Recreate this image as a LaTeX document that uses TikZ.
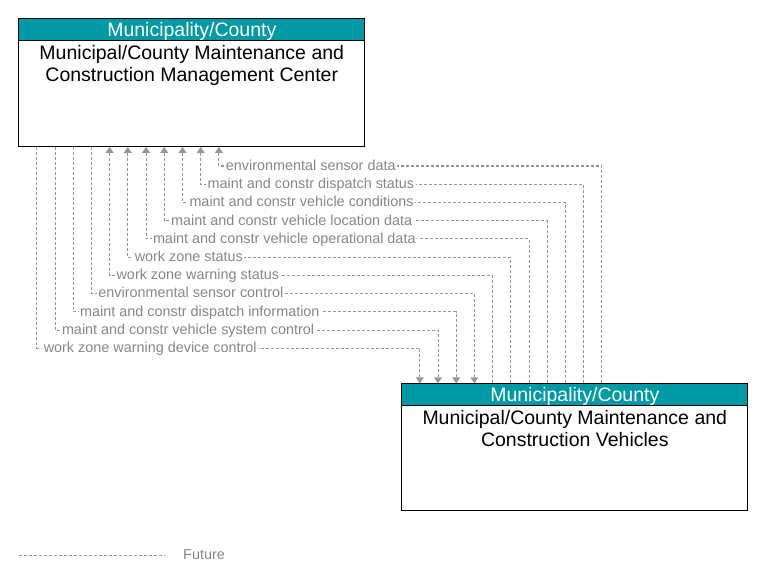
\documentclass[tikz,border=0pt]{standalone}
\usepackage{fontspec}
\setmainfont{Liberation Sans}
\usetikzlibrary{arrows.meta}
\definecolor{hdrteal}{RGB}{0,154,166}
\definecolor{flowgray}{RGB}{150,150,150}
\definecolor{lblgray}{RGB}{135,135,135}

\begin{document}
\begin{tikzpicture}[x=1pt,y=-1pt,>={Triangle[width=8pt,length=6pt]},
  box/.style={draw=black, line width=1pt, minimum width=346pt, anchor=north west, inner sep=0pt},
  hdr/.style={draw=black, line width=1pt, fill=hdrteal, text=white, minimum width=346pt, minimum height=22pt,
    anchor=north west, inner sep=0pt, text height=14pt, text depth=1pt, font=\fontsize{19.5}{21.5}\selectfont},
  ttl/.style={anchor=north, align=center, inner xsep=0pt, inner ysep=4pt, font=\fontsize{19.5}{21.5}\selectfont},
  flow/.style={flowgray, line width=1pt, dash pattern=on 3pt off 2pt},
  lbl/.style={anchor=west, xshift=5pt, fill=white, inner sep=1.5pt, text=lblgray, text height=10.3pt,
    text depth=1.5pt, font=\fontsize{14.4}{16}\selectfont}]
\useasboundingbox (0,0) rectangle (763,583);

% management center
\node[box, minimum height=127.7pt] (mc) at (18.3,18.3) {};
\node[hdr] (mch) at (18.3,18.3) {Municipality/County};
\node[ttl] (mct) at (mch.south) {Municipal/County Maintenance and\\Construction Management Center};

% vehicles
\node[box, minimum height=127pt] (vc) at (401.3,383.3) {};
\node[hdr] (vch) at (401.3,383.3) {Municipality/County};
\node[ttl] (vct) at (vch.south) {Municipal/County Maintenance and\\Construction Vehicles};

% flows to the center
\draw[flow,<-] ([xshift=200.6pt]mc.south west) -- ++(0,19) node[lbl]{environmental sensor data} -| ([xshift=200.6pt]vc.north west);
\draw[flow,<-] ([xshift=182.4pt]mc.south west) -- ++(0,37.2) node[lbl]{maint and constr dispatch status} -| ([xshift=182.4pt]vc.north west);
\draw[flow,<-] ([xshift=164.2pt]mc.south west) -- ++(0,55.5) node[lbl]{maint and constr vehicle conditions} -| ([xshift=164.2pt]vc.north west);
\draw[flow,<-] ([xshift=145.9pt]mc.south west) -- ++(0,73.7) node[lbl]{maint and constr vehicle location data} -| ([xshift=145.9pt]vc.north west);
\draw[flow,<-] ([xshift=127.7pt]mc.south west) -- ++(0,91.9) node[lbl]{maint and constr vehicle operational data} -| ([xshift=127.7pt]vc.north west);
\draw[flow,<-] ([xshift=109.5pt]mc.south west) -- ++(0,110.1) node[lbl]{work zone status} -| ([xshift=109.5pt]vc.north west);
\draw[flow,<-] ([xshift=91.3pt]mc.south west) -- ++(0,128.3) node[lbl]{work zone warning status} -| ([xshift=91.3pt]vc.north west);

% flows to the vehicles
\draw[flow,->] ([xshift=73.1pt]mc.south west) -- ++(0,146.5) node[lbl]{environmental sensor control} -| ([xshift=73.1pt]vc.north west);
\draw[flow,->] ([xshift=54.9pt]mc.south west) -- ++(0,164.8) node[lbl]{maint and constr dispatch information} -| ([xshift=54.9pt]vc.north west);
\draw[flow,->] ([xshift=36.7pt]mc.south west) -- ++(0,183) node[lbl]{maint and constr vehicle system control} -| ([xshift=36.7pt]vc.north west);
\draw[flow,->] ([xshift=18.5pt]mc.south west) -- ++(0,201.2) node[lbl]{work zone warning device control} -| ([xshift=18.5pt]vc.north west);

% legend
\coordinate (fa) at (19,555);
\coordinate (fb) at (165,555);
\draw[flow] (fa) -- (fb);
\node[anchor=west, inner sep=1.5pt, text=lblgray, font=\fontsize{14.4}{16}\selectfont] (fut) at (181.5,555) {Future};
\end{tikzpicture}
\end{document}
